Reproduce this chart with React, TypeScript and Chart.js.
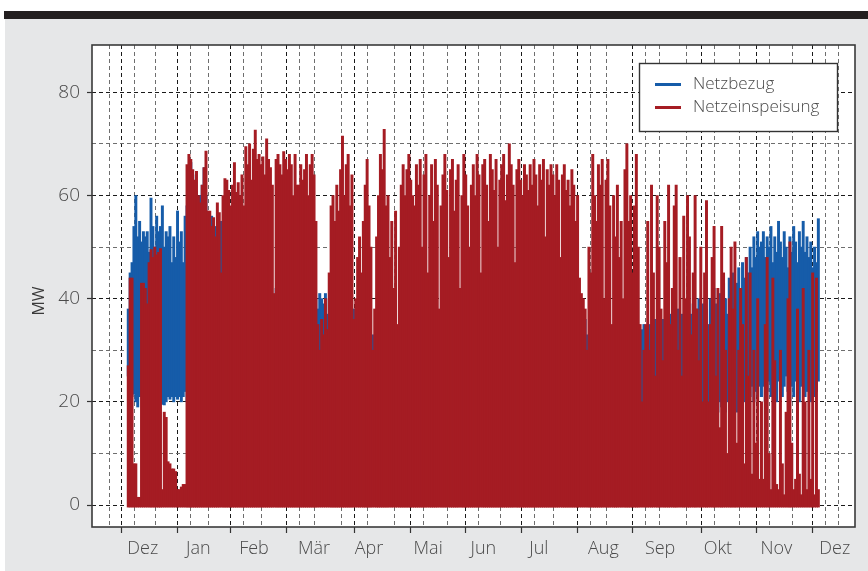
import React, { useEffect, useRef } from 'react';
import { Chart, registerables } from 'chart.js';
Chart.register(...registerables);

// x axis: day index (0 = 1 Jan). Month ticks are placed at month ends.
const monthTickDays = [0, 31, 59, 90, 120, 151, 181, 212, 243, 273, 304, 334, 365];
const monthTickLabels = ['Dez', 'Jan', 'Feb', 'Mär', 'Apr', 'Mai', 'Jun', 'Jul', 'Aug', 'Sep', 'Okt', 'Nov', 'Dez'];
const minorTickDays = [-6.2, 7.8, 21.8, 35.8, 49.8, 63.8, 77.8, 91.8, 105.8, 119.8, 133.8, 147.8, 161.8, 175.8,
  189.8, 203.8, 217.8, 231.8, 245.8, 259.8, 273.8, 287.8, 301.8, 315.8, 329.8, 343.8, 357.8, 371.8];
const yGridTicks = [0, 10, 20, 30, 40, 50, 60, 70, 80];

// Netzeinspeisung: daily peak (MW)
const einspeisungMax = [
  // Jan
  27, 44, 44, 8, 8, 1.5, 1.5, 43, 43, 42, 39, 47, 49.5, 48, 50, 48.5, 49, 49.7, 3, 18, 17, 8.4, 8, 7, 7, 6.5, 3, 3, 3.5, 4, 4,
  // Feb
  66, 68, 67, 65, 63, 64.7, 60, 58.6, 62, 65.4, 68.6, 57, 57, 54, 55.7, 52, 58.6, 56.7, 45, 60, 63.3, 63, 61, 58, 62, 66.4, 60.6, 62.5,
  // Mar
  60, 64, 58, 69.5, 66, 70, 63, 69, 72.7, 67, 68, 66, 67.5, 64, 71, 67, 65.4, 62, 41, 67, 68, 66, 64, 68.5, 67, 65, 68, 66, 60, 68, 62,
  // Apr
  62, 66, 63, 65, 68, 60, 66, 68, 64, 55, 35, 30, 36, 33, 40, 34, 45, 58, 60, 55, 62, 57, 65, 71.5, 60, 66, 68, 58, 64, 36,
  // May
  40, 48, 52, 45, 55, 62, 67, 58, 50, 30, 38, 52, 60, 68, 65, 72.8, 58, 60, 48, 55, 42, 57, 35, 50, 62, 66, 60, 65, 68, 63, 60,
  // Jun
  58, 66, 62, 67, 50, 64, 68, 45, 60, 66, 55, 67, 62, 38, 58, 64, 68, 61, 48, 65, 67, 57, 63, 66, 42, 60, 68, 64, 58, 50,
  // Jul
  62, 66, 60, 68, 64, 45, 66, 67, 62, 55, 68, 65, 61, 67, 50, 63, 66, 68, 59, 64, 70, 66, 62, 47, 65, 67, 63, 60, 66, 64, 61,
  // Aug
  66, 62, 67, 64, 58, 66, 63, 67, 52, 65, 62, 66, 64, 60, 66, 63, 48, 64, 66, 61, 63, 58, 65, 62, 55, 60, 44, 41, 40, 38, 30,
  // Sep
  50, 45, 68, 60, 55, 66, 62, 67, 40, 63, 67, 58, 35, 60, 52, 62, 48, 55, 40, 65, 70, 55, 60, 45, 58, 68, 50, 35, 20, 30,
  // Oct
  35, 55, 30, 62, 45, 25, 60, 50, 38, 28, 55, 47, 62, 35, 42, 58, 62, 30, 48, 25, 56, 40, 60, 52, 33, 45, 60, 38, 28, 50, 20,
  // Nov
  45, 59, 20, 35, 48, 54, 25, 42, 15, 54, 45, 30, 10, 40, 50, 38, 51, 12, 30, 42, 35, 8, 48, 25, 45, 6, 30, 12, 40, 5,
  // Dec
  20, 5, 35, 48, 10, 3, 44, 28, 4, 3, 30, 8, 2, 18, 40, 51, 12, 3, 5, 38, 6, 2, 42, 20, 3, 30, 5, 45, 2, 44, 3,
];

// Netzbezug: daily maximum (MW)
const bezugMax = [
  38, 45, 47, 54, 60, 52, 55, 51, 53, 52, 53, 49, 59.5, 54, 50, 56, 53, 54, 58, 50, 53, 52, 54, 47, 52, 48, 57, 51, 53, 47, 56,
  58, 62, 66.4, 64, 60, 60.8, 58, 60, 62, 65.4, 60, 55, 52, 56, 50, 54, 48, 52, 55, 50, 47, 52, 49, 46, 50, 48, 45, 47,
  44, 42, 45, 40, 43, 41, 44, 42, 40, 43, 41, 39, 42, 40, 43, 38, 41, 39, 40, 42, 38, 40, 37, 41, 39, 36, 40, 38, 41, 37, 39,
  38, 40, 36, 39, 37, 41, 38, 36, 39, 40, 38, 41, 40, 39, 41, 37, 40, 36, 38, 35, 37, 34, 36, 33, 35, 32, 34, 36, 33, 38,
  35, 38, 32, 34, 30, 33, 29, 31, 28, 33, 30, 27, 29, 26, 28, 25, 27, 24, 26, 28, 23, 25, 27, 22, 24, 21, 23, 25, 20, 22, 24,
  20, 22, 19, 21, 18, 20, 17, 19, 21, 18, 20, 16, 18, 20, 17, 19, 15, 18, 16, 19, 17, 15, 18, 16, 14, 17, 15, 18, 16, 19,
  17, 15, 18, 16, 14, 17, 15, 19, 16, 14, 18, 15, 17, 16, 19, 14, 17, 15, 18, 16, 14, 17, 15, 19, 16, 18, 15, 17, 14, 18, 16,
  18, 16, 19, 17, 15, 20, 17, 19, 16, 21, 18, 20, 17, 22, 19, 21, 18, 23, 20, 22, 24, 21, 25, 23, 27, 30, 36, 35, 34, 36, 33,
  30, 32, 28, 31, 29, 33, 30, 27, 32, 29, 31, 28, 33, 30, 32, 29, 31, 34, 30, 32, 29, 33, 31, 34, 30, 32, 35, 33, 34, 35,
  33, 31, 35, 32, 34, 36, 33, 35, 32, 36, 34, 31, 35, 37, 33, 36, 34, 38, 35, 37, 34, 36, 38, 35, 37, 39, 36, 38, 40, 37, 39,
  36, 38, 35, 40, 37, 42, 39, 36, 41, 38, 43, 40, 37, 44, 41, 45, 39, 43, 46, 42, 47, 44, 48, 45, 50, 46, 52, 48, 53, 50,
  51, 53, 48, 52, 50, 54, 47, 52, 49, 55, 51, 48, 53, 50, 46, 52, 49, 54, 51, 47, 53, 50, 55, 49, 52, 48, 51, 46, 50, 47, 55.5,
];

// Netzbezug: daily minimum (MW)
const bezugMin = [
  25, 22, 21, 21.5, 20, 19, 21, 22, 21, 20, 22, 21, 20, 21, 22, 20, 21, 20, 19.5, 19.4, 20, 21, 20.5, 21, 20, 21, 20.5, 21, 20, 21, 22,
  20, 19, 18, 20, 19, 18, 17, 19, 18, 17, 16, 15, 16, 14, 15, 13, 14, 12, 13, 11, 12, 10, 11, 9, 10, 8, 9, 8,
  8, 7, 8, 6, 7, 6, 8, 7, 6, 5, 7, 6, 5, 6, 7, 5, 6, 5, 6, 7, 5, 6, 4, 5, 6, 4, 5, 6, 4, 5, 6,
  5, 4, 6, 5, 4, 5, 6, 4, 5, 4, 6, 5, 4, 5, 6, 4, 5, 4, 5, 6, 4, 5, 4, 3, 5, 4, 3, 4, 5, 14,
  4, 3, 5, 4, 3, 4, 3, 5, 4, 3, 4, 3, 2, 4, 3, 2, 3, 4, 2, 3, 2, 3, 4, 2, 3, 2, 3, 2, 3, 2, 3,
  2, 3, 2, 1, 2, 3, 2, 1, 2, 2, 1, 2, 3, 1, 2, 1, 2, 1, 2, 1, 2, 1, 1, 2, 1, 2, 1, 1, 2, 1,
  1, 2, 1, 1, 2, 1, 1, 2, 1, 1, 2, 1, 1, 2, 1, 1, 2, 1, 1, 2, 1, 1, 2, 1, 1, 2, 1, 1, 2, 1, 1,
  2, 1, 2, 1, 2, 3, 2, 1, 2, 3, 2, 3, 2, 3, 4, 3, 2, 3, 4, 3, 4, 5, 4, 5, 6, 5, 6, 7, 8, 7, 9,
  10, 9, 8, 10, 9, 11, 10, 8, 11, 10, 9, 12, 10, 11, 9, 12, 10, 13, 11, 12, 10, 13, 12, 11, 13, 12, 14, 13, 12, 14,
  13, 15, 12, 14, 16, 13, 15, 14, 17, 13, 16, 15, 14, 17, 16, 15, 18, 14, 17, 16, 18, 15, 17, 19, 16, 18, 17, 19, 16, 18, 20,
  17, 19, 18, 20, 17, 19, 21, 18, 20, 19, 21, 18, 20, 22, 19, 21, 20, 18, 22, 19, 21, 20, 22, 19, 21, 23, 20, 22, 21, 23,
  21, 23, 20, 22, 24, 21, 23, 22, 20, 24, 22, 21, 23, 25, 22, 20, 23, 21, 24, 22, 20, 23, 25, 21, 22, 24, 20, 23, 21, 22, 24,
];

const seriesNames = ['Netzbezug', 'Netzeinspeisung'];
const BLUE = '#165ca9';
const RED = '#a51c23';
const FONT = '"Open Sans", "DejaVu Sans", sans-serif';
const TEXT = '#4a4a4a';

const isMonth = (v: number) => monthTickDays.indexOf(v) >= 0;

const framePlugin = {
  id: 'frame',
  beforeDraw(chart: any) {
    const { ctx, chartArea: a } = chart;
    ctx.save();
    ctx.fillStyle = '#ffffff';
    ctx.fillRect(a.left, a.top, a.right - a.left, a.bottom - a.top);
    ctx.restore();
  },
  afterDraw(chart: any) {
    const { ctx, chartArea: a } = chart;
    ctx.save();
    // plot frame
    ctx.strokeStyle = '#3a3a3a';
    ctx.lineWidth = 1.6;
    ctx.strokeRect(a.left, a.top, a.right - a.left, a.bottom - a.top);
    // legend
    const lx = 639.5, ly = 63.5, lw = 198, lh = 68;
    ctx.fillStyle = '#ffffff';
    ctx.fillRect(lx, ly, lw, lh);
    ctx.strokeStyle = '#333333';
    ctx.lineWidth = 1.4;
    ctx.strokeRect(lx, ly, lw, lh);
    const items = [
      { label: seriesNames[0], color: BLUE, y: 84.5 },
      { label: seriesNames[1], color: RED, y: 107.5 },
    ];
    ctx.font = `300 17px ${FONT}`;
    ctx.textBaseline = 'middle';
    ctx.textAlign = 'left';
    for (const it of items) {
      ctx.strokeStyle = it.color;
      ctx.lineWidth = 3;
      ctx.beginPath();
      ctx.moveTo(655, it.y);
      ctx.lineTo(681, it.y);
      ctx.stroke();
      ctx.fillStyle = TEXT;
      ctx.fillText(it.label, 693, it.y);
    }
    // y axis title
    ctx.translate(39, 301);
    ctx.rotate(-Math.PI / 2);
    ctx.textAlign = 'center';
    ctx.font = `400 16px ${FONT}`;
    ctx.fillStyle = '#3a3a3a';
    ctx.fillText('MW', 0, 0);
    ctx.restore();
  },
};

export default function App() {
  const ref = useRef<HTMLCanvasElement>(null);
  useEffect(() => {
    document.body.style.margin = '0';
    const canvas = ref.current!;
    const blueData = bezugMax.map((v, i) => ({ x: i + 0.5, y: [bezugMin[i], v] }));
    const redData = einspeisungMax.map((v, i) => ({ x: i + 0.5, y: [-0.4, v] }));
    const xTicks = [...monthTickDays, ...minorTickDays].sort((p, q) => p - q);
    const chart = new Chart(canvas, {
      type: 'bar',
      data: {
        datasets: [
          { label: seriesNames[0], data: blueData as any, backgroundColor: BLUE, order: 1, grouped: false, barThickness: 2.3, borderWidth: 0 } as any,
          { label: seriesNames[1], data: redData as any, backgroundColor: RED, order: 0, grouped: false, barThickness: 2.3, borderWidth: 0 } as any,
        ],
      },
      options: {
        responsive: false,
        animation: false,
        devicePixelRatio: 1,
        layout: { padding: { top: 45, right: 13, left: 0, bottom: 0 } },
        plugins: { legend: { display: false }, tooltip: { enabled: false } },
        scales: {
          x: {
            type: 'linear',
            min: -18.62,
            max: 383.83,
            offset: false,
            afterBuildTicks: (s: any) => { s.ticks = xTicks.map((v) => ({ value: v })); },
            afterFit: (s: any) => { s.height = 44; },
            grid: {
              color: (c: any) => (isMonth(c.tick?.value) ? '#1a1a1a' : '#6e6e6e'),
              lineWidth: 1,
              drawTicks: true,
              tickLength: 6,
              tickWidth: 1.2,
              tickBorderDash: [],
              tickColor: (c: any) => (isMonth(c.tick?.value) ? '#333333' : 'rgba(0,0,0,0)'),
            },
            border: { display: false, dash: [4, 3] },
            ticks: {
              autoSkip: false,
              maxRotation: 0,
              minRotation: 0,
              align: 'start',
              padding: 5,
              color: TEXT,
              font: { family: FONT, size: 18, weight: '300' },
              callback: (v: any) => {
                const i = monthTickDays.indexOf(v);
                return i >= 0 ? monthTickLabels[i] : '';
              },
            },
          } as any,
          y: {
            type: 'linear',
            min: -4.26,
            max: 89.17,
            afterBuildTicks: (s: any) => { s.ticks = yGridTicks.map((v) => ({ value: v })); },
            afterFit: (s: any) => { s.width = 92; },
            grid: {
              color: (c: any) => (c.tick && c.tick.value % 20 === 0 ? '#1a1a1a' : '#6e6e6e'),
              lineWidth: 1,
              drawTicks: true,
              tickLength: 5,
              tickWidth: 1.2,
              tickBorderDash: [],
              tickColor: (c: any) => (c.tick && c.tick.value % 20 === 0 ? '#333333' : 'rgba(0,0,0,0)'),
            },
            border: { display: false, dash: [4, 3] },
            ticks: {
              padding: 7,
              color: TEXT,
              font: { family: FONT, size: 19, weight: '300' },
              callback: (v: any) => (v % 20 === 0 ? String(v) : ''),
            },
          } as any,
        },
      },
      plugins: [framePlugin],
    } as any);
    return () => chart.destroy();
  }, []);

  return (
    <div style={{ position: 'absolute', left: 0, top: 0, width: 868, height: 571, background: '#ffffff', overflow: 'hidden' }}>
      <div style={{ position: 'absolute', left: 5, top: 19, width: 863, height: 552, background: '#e6e7e8' }} />
      <div style={{ position: 'absolute', left: 4, top: 11, width: 864, height: 8, background: '#231f20' }} />
      <canvas ref={ref} width={868} height={571} style={{ position: 'absolute', left: 0, top: 0, width: 868, height: 571 }} />
    </div>
  );
}
